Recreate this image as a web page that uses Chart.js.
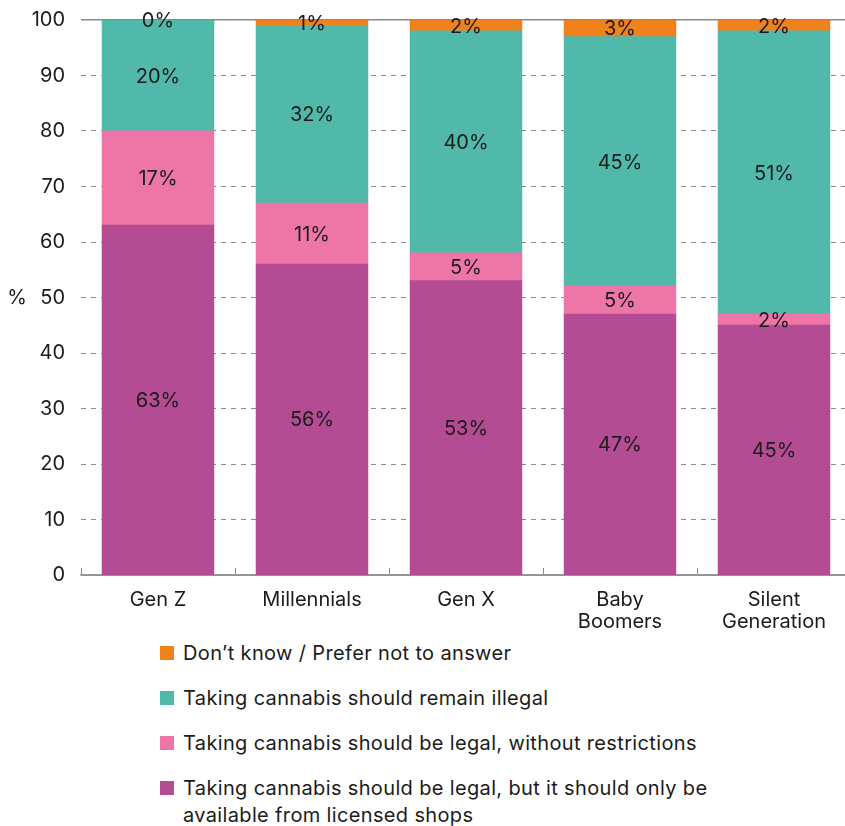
<!DOCTYPE html>
<html>
<head>
<meta charset="utf-8">
<script src="https://cdn.jsdelivr.net/npm/chart.js@4.4.1/dist/chart.umd.min.js"></script>
<style>
html,body{margin:0;padding:0;overflow:hidden;background:#fff;width:845px;height:826px;}
#wrap{position:absolute;left:0;top:0;width:852px;height:640px;}
#legend{position:absolute;left:160px;top:640px;font-family:Inter,Roboto,sans-serif;font-size:20px;color:#1b1b1b;letter-spacing:0.35px;}
.item{display:flex;align-items:flex-start;margin-bottom:18px;}
.box{width:14px;height:14px;margin-right:9px;margin-top:6px;flex:none;}
.txt{width:530px;line-height:27px;}
</style>
</head>
<body>
<div id="wrap"><canvas id="c" width="852" height="640"></canvas></div>
<div id="legend"></div>
<script>
const categories = ['Gen Z', 'Millennials', 'Gen X', ['Baby', 'Boomers'], ['Silent', 'Generation']];
const licensedShops = [63, 56, 53, 47, 45];
const noRestrictions = [17, 11, 5, 5, 2];
const remainIllegal = [20, 32, 40, 45, 51];
const dontKnow = [0, 1, 2, 3, 2];
const seriesNames = [
  'Taking cannabis should be legal, but it should only be available from licensed shops',
  'Taking cannabis should be legal, without restrictions',
  'Taking cannabis should remain illegal',
  'Don\u2019t know / Prefer not to answer'
];
const seriesColors = ['#B44C94', '#EE76A6', '#50B9A9', '#F0821E'];
const yMin = 0, yMax = 100, yStep = 10;
const FONT = 'Inter, Roboto, sans-serif';
const TEXT = '#1b1b1b';

const seriesValues = [licensedShops, noRestrictions, remainIllegal, dontKnow];
const datasets = seriesValues.map((vals, i) => ({
  label: seriesNames[i],
  data: vals,
  backgroundColor: seriesColors[i],
  borderWidth: 0,
  inflateAmount: 0.5,
  barPercentage: 0.724,
  categoryPercentage: 1
}));

const valueLabels = {
  id: 'valueLabels',
  afterDatasetsDraw(chart) {
    const ctx = chart.ctx;
    ctx.save();
    ctx.font = '20px ' + FONT;
    ctx.fillStyle = TEXT;
    ctx.textAlign = 'center';
    ctx.textBaseline = 'middle';
    chart.data.datasets.forEach((ds, di) => {
      const meta = chart.getDatasetMeta(di);
      meta.data.forEach((el, i) => {
        const v = ds.data[i];
        const y = (el.y + el.base) / 2;
        ctx.fillText(v + '%', el.x, y + 1);
      });
    });
    ctx.restore();
  }
};

const unitLabel = {
  id: 'unitLabel',
  afterDraw(chart) {
    const ctx = chart.ctx;
    const a = chart.chartArea;
    ctx.save();
    ctx.font = '20px ' + FONT;
    ctx.fillStyle = TEXT;
    ctx.textAlign = 'center';
    ctx.textBaseline = 'middle';
    ctx.fillText('%', 17, (a.top + a.bottom) / 2);
    ctx.restore();
  }
};

new Chart(document.getElementById('c'), {
  type: 'bar',
  data: { labels: categories, datasets },
  plugins: [valueLabels, unitLabel],
  options: {
    responsive: false,
    animation: false,
    devicePixelRatio: 1,
    layout: { padding: { top: 20, right: 1, left: 0, bottom: 0 } },
    plugins: { legend: { display: false }, tooltip: { enabled: false } },
    scales: {
      x: {
        stacked: true,
        afterFit(s) { s.height = 65; s.paddingLeft = 0; s.paddingRight = 0; },
        grid: {
          offset: true,
          drawOnChartArea: false,
          drawTicks: true,
          tickLength: -7,
          color: '#8a8a8a',
          lineWidth: 1
        },
        border: { display: true, color: '#999999', width: 1.5 },
        ticks: {
          font: { family: FONT, size: 20, lineHeight: 1.1 },
          color: TEXT,
          padding: 21,
          maxRotation: 0,
          autoSkip: false
        }
      },
      y: {
        stacked: true,
        min: yMin,
        max: yMax,
        afterFit(s) { s.width = 81; s.paddingTop = 0; s.paddingBottom = 0; },
        grid: {
          drawTicks: false,
          color: '#8a8a8a',
          lineWidth: (c) => (c.tick && c.tick.value === yMax ? 1.5 : 1)
        },
        border: {
          display: false,
          dash: (c) => (c.tick && (c.tick.value === yMax || c.tick.value === yMin) ? [] : [5, 5])
        },
        ticks: {
          stepSize: yStep,
          font: { family: FONT, size: 20 },
          color: TEXT,
          padding: 16
        }
      }
    }
  }
});

const legend = document.getElementById('legend');
for (let i = seriesNames.length - 1; i >= 0; i--) {
  const item = document.createElement('div');
  item.className = 'item';
  const box = document.createElement('div');
  box.className = 'box';
  box.style.background = seriesColors[i];
  const txt = document.createElement('div');
  txt.className = 'txt';
  txt.textContent = seriesNames[i];
  item.appendChild(box);
  item.appendChild(txt);
  legend.appendChild(item);
}
</script>
</body>
</html>
